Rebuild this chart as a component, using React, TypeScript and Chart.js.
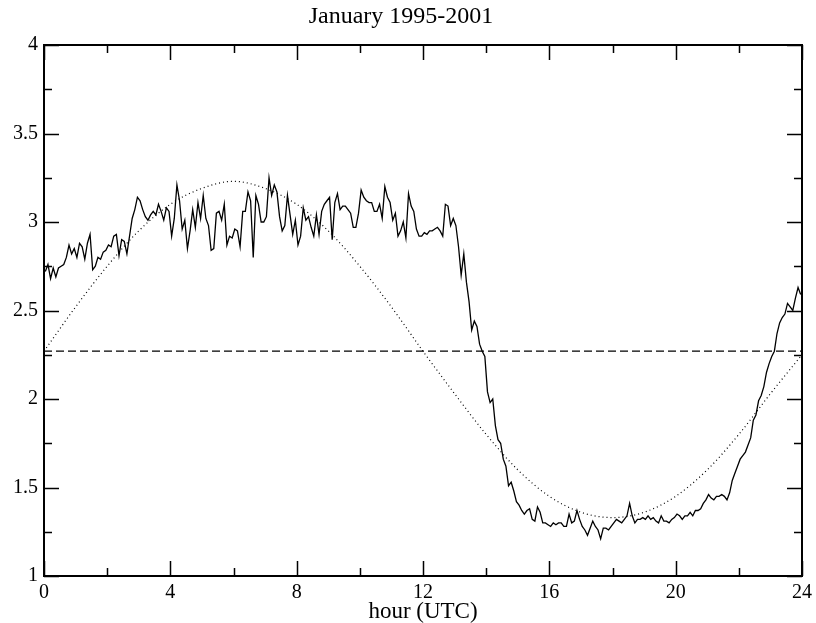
import { useEffect, useRef } from "react";
import { Chart, registerables } from "chart.js";

Chart.register(...registerables);

const TITLE = "January 1995-2001";
const X_LABEL = "hour (UTC)";
const STEPS_PER_HOUR = 12;

// 5-minute mean values
const MEAN_VALUES = [
  2.72, 2.76, 2.68, 2.74, 2.69, 2.74, 2.75, 2.76, 2.80, 2.87, 2.82, 2.85,
  2.80, 2.88, 2.86, 2.79, 2.88, 2.93, 2.73, 2.75, 2.80, 2.79, 2.83, 2.84,
  2.87, 2.86, 2.92, 2.93, 2.81, 2.90, 2.89, 2.82, 2.92, 3.02, 3.07, 3.14,
  3.12, 3.07, 3.03, 3.01, 3.04, 3.06, 3.04, 3.10, 3.06, 3.01, 3.08, 3.06,
  2.92, 3.02, 3.21, 3.12, 2.96, 3.01, 2.85, 2.95, 3.07, 2.97, 3.11, 3.02,
  3.15, 3.02, 2.98, 2.84, 2.85, 3.05, 3.06, 3.01, 3.10, 2.87, 2.92, 2.91,
  2.96, 2.95, 2.86, 3.06, 3.06, 3.17, 3.12, 2.80, 3.15, 3.10, 3.00, 3.00,
  3.03, 3.25, 3.15, 3.21, 3.17, 3.03, 2.95, 2.98, 3.15, 3.04, 2.93, 3.01,
  2.87, 2.92, 3.08, 3.01, 3.03, 2.97, 2.92, 3.04, 2.93, 3.06, 3.10, 3.12,
  3.14, 2.90, 3.11, 3.16, 3.07, 3.09, 3.09, 3.07, 3.05, 2.97, 2.97, 3.05,
  3.18, 3.14, 3.12, 3.11, 3.11, 3.06, 3.06, 3.10, 3.02, 3.20, 3.14, 3.11,
  3.01, 3.05, 2.92, 2.95, 3.00, 2.91, 3.16, 3.09, 3.06, 2.96, 2.92, 2.92,
  2.94, 2.93, 2.95, 2.95, 2.96, 2.97, 2.95, 2.92, 3.10, 3.09, 2.98, 3.02,
  2.98, 2.86, 2.70, 2.82, 2.66, 2.55, 2.39, 2.44, 2.41, 2.31, 2.27, 2.24,
  2.04, 1.98, 2.00, 1.85, 1.77, 1.75, 1.66, 1.62, 1.51, 1.53, 1.48, 1.42,
  1.40, 1.37, 1.35, 1.37, 1.38, 1.32, 1.31, 1.39, 1.36, 1.30, 1.30, 1.29,
  1.28, 1.30, 1.29, 1.30, 1.30, 1.28, 1.28, 1.35, 1.30, 1.31, 1.37, 1.32,
  1.28, 1.26, 1.23, 1.27, 1.31, 1.28, 1.26, 1.21, 1.27, 1.27, 1.26, 1.28,
  1.30, 1.32, 1.31, 1.30, 1.32, 1.34, 1.41, 1.34, 1.30, 1.32, 1.32, 1.33,
  1.32, 1.34, 1.32, 1.33, 1.31, 1.30, 1.34, 1.31, 1.31, 1.30, 1.32, 1.33,
  1.35, 1.34, 1.32, 1.34, 1.34, 1.36, 1.34, 1.37, 1.37, 1.38, 1.41, 1.43,
  1.46, 1.44, 1.43, 1.45, 1.45, 1.46, 1.45, 1.43, 1.47, 1.54, 1.58, 1.62,
  1.66, 1.68, 1.70, 1.74, 1.78, 1.88, 1.91, 1.99, 2.02, 2.07, 2.15, 2.20,
  2.24, 2.27, 2.37, 2.43, 2.46, 2.48, 2.54, 2.52, 2.50, 2.57, 2.63, 2.59,
];

// dotted fitted curve
const FIT_HOURS = [0, 1, 2, 3, 4, 5, 6, 7, 8, 9, 10, 11, 12, 13, 14, 15, 16, 17, 18, 19, 20, 21, 22, 23, 24];
const FIT_VALUES = [
  2.27, 2.52, 2.75, 2.95, 3.10, 3.19, 3.23, 3.19, 3.10, 2.95, 2.75, 2.52,
  2.27, 2.03, 1.80, 1.60, 1.45, 1.36, 1.33, 1.36, 1.45, 1.60, 1.80, 2.03, 2.25,
];

// dashed daily mean level
const LEVEL_HOURS = [0, 24];
const LEVEL_VALUES = [2.27, 2.27];

const X_MIN = 0;
const X_MAX = 24;
const X_MAJOR = 4;
const X_MINOR = 2;
const Y_MIN = 1;
const Y_MAX = 4;
const Y_MAJOR = 0.5;
const Y_MINOR = 0.25;

const FONT = "'Liberation Serif', 'Times New Roman', serif";

const frameTicks = {
  id: "frameTicks",
  afterDraw(chart: any) {
    const { ctx, chartArea, scales } = chart;
    const { left, right, top, bottom } = chartArea;
    ctx.save();
    ctx.strokeStyle = "#000";
    ctx.lineWidth = 2;
    ctx.strokeRect(left, top, right - left, bottom - top);
    const major = 15;
    const minor = 8;
    ctx.lineWidth = 1.5;
    ctx.beginPath();
    for (let v = X_MIN; v <= X_MAX + 1e-9; v += X_MINOR) {
      const px = Math.round(scales.x.getPixelForValue(v)) + 0.5;
      const isMajor = Math.abs(v / X_MAJOR - Math.round(v / X_MAJOR)) < 1e-6;
      const len = isMajor ? major : minor;
      ctx.moveTo(px, bottom);
      ctx.lineTo(px, bottom - len);
      ctx.moveTo(px, top);
      ctx.lineTo(px, top + len);
    }
    for (let v = Y_MIN; v <= Y_MAX + 1e-9; v += Y_MINOR) {
      const py = Math.round(scales.y.getPixelForValue(v)) + 0.5;
      const isMajor = Math.abs(v / Y_MAJOR - Math.round(v / Y_MAJOR)) < 1e-6;
      const len = isMajor ? major : minor;
      ctx.moveTo(left, py);
      ctx.lineTo(left + len, py);
      ctx.moveTo(right, py);
      ctx.lineTo(right - len, py);
    }
    ctx.stroke();
    ctx.restore();
  },
};

export default function App() {
  const ref = useRef<HTMLCanvasElement | null>(null);

  useEffect(() => {
    if (!ref.current) return;
    const meanData = MEAN_VALUES.map((v, i) => ({ x: (i + 0.5) / STEPS_PER_HOUR, y: v }));
    const fitData = FIT_HOURS.map((h, i) => ({ x: h, y: FIT_VALUES[i] }));
    const levelData = LEVEL_HOURS.map((h, i) => ({ x: h, y: LEVEL_VALUES[i] }));

    const chart = new Chart(ref.current, {
      type: "line",
      data: {
        datasets: [
          {
            label: "fit",
            data: fitData,
            borderColor: "#000",
            borderWidth: 1.2,
            borderDash: [1, 3],
            pointRadius: 0,
            cubicInterpolationMode: "monotone",
            fill: false,
          },
          {
            label: "level",
            data: levelData,
            borderColor: "#000",
            borderWidth: 1.2,
            borderDash: [8, 4],
            pointRadius: 0,
            fill: false,
          },
          {
            label: "mean",
            data: meanData,
            borderColor: "#000",
            borderWidth: 1.3,
            pointRadius: 0,
            tension: 0,
            fill: false,
          },
        ],
      },
      options: {
        responsive: false,
        animation: false,
        events: [],
        layout: { padding: { left: 0, right: 14, top: 0, bottom: 0 } },
        plugins: {
          legend: { display: false },
          tooltip: { enabled: false },
          title: {
            display: true,
            text: TITLE,
            color: "#000",
            font: { family: FONT, size: 24, weight: "normal", lineHeight: 1.2 },
            padding: { top: 2, bottom: 14.2 },
          },
        },
        scales: {
          x: {
            type: "linear",
            min: X_MIN,
            max: X_MAX,
            grid: { display: false, drawTicks: false },
            border: { display: false },
            ticks: {
              stepSize: X_MAJOR,
              color: "#000",
              font: { family: FONT, size: 20 },
              padding: 5,
              maxRotation: 0,
            },
            title: {
              display: true,
              text: X_LABEL,
              color: "#000",
              font: { family: FONT, size: 23, lineHeight: 1 },
              padding: { top: 0, bottom: 0 },
            },
            afterFit(scale: any) {
              scale.height = 47;
              scale.paddingLeft = 0;
              scale.paddingRight = 0;
            },
          },
          y: {
            type: "linear",
            min: Y_MIN,
            max: Y_MAX,
            grid: { display: false, drawTicks: false },
            border: { display: false },
            ticks: {
              stepSize: Y_MAJOR,
              color: "#000",
              font: { family: FONT, size: 20 },
              padding: 6,
              callback: (v: any) => String(v),
            },
            afterFit(scale: any) {
              scale.width = 44;
              scale.paddingTop = 0;
              scale.paddingBottom = 0;
            },
          },
        },
      },
      plugins: [frameTicks],
    });
    return () => chart.destroy();
  }, []);

  return (
    <div style={{ position: "absolute", left: 0, top: 0, width: 816, height: 623, background: "#fff" }}>
      <canvas ref={ref} width={816} height={623} style={{ display: "block" }} />
    </div>
  );
}
